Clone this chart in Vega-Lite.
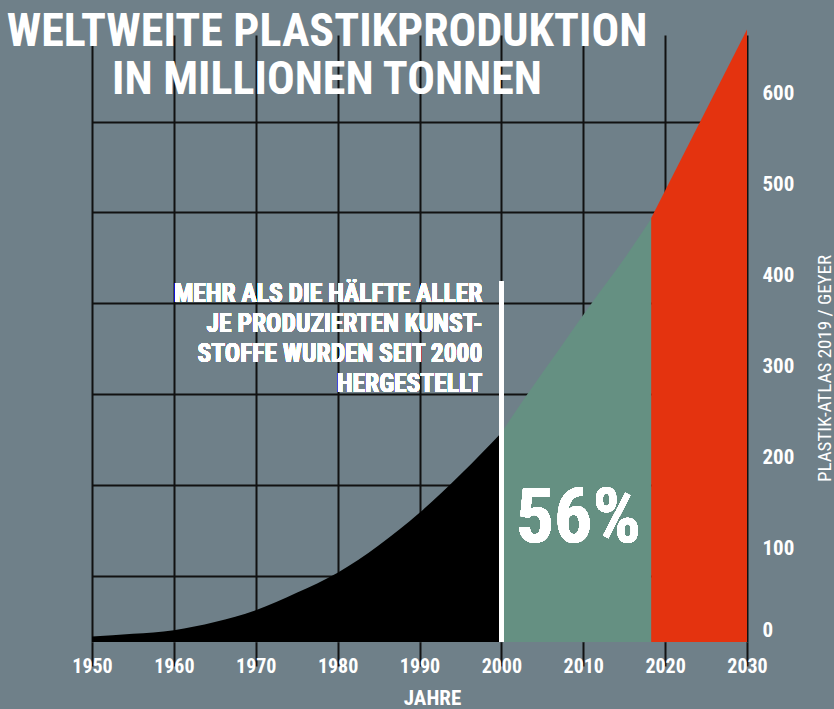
{
  "$schema": "https://vega.github.io/schema/vega-lite/v6.json",
  "autosize": "none",
  "width": 655,
  "height": 607,
  "padding": {"left": 92, "top": 35, "right": 87, "bottom": 67},
  "background": "#6f8089",
  "config": {"view": {"stroke": null}, "font": "Roboto Condensed, Roboto, sans-serif"},
  "title": {
    "text": ["WELTWEITE PLASTIKPRODUKTION", "IN MILLIONEN TONNEN"],
    "frame": "group",
    "anchor": "start",
    "align": "center",
    "dx": 235,
    "baseline": "top",
    "offset": 0,
    "dy": 74,
    "lineHeight": 48,
    "fontSize": 46,
    "fontWeight": "bold",
    "color": "white",
    "font": "Roboto Condensed, Roboto, sans-serif"
  },
  "data": {
    "values": [
      {"year": 1950, "value": 6, "segment": "bis 2000"},
      {"year": 1955, "value": 9, "segment": "bis 2000"},
      {"year": 1960, "value": 13, "segment": "bis 2000"},
      {"year": 1965, "value": 22, "segment": "bis 2000"},
      {"year": 1970, "value": 35, "segment": "bis 2000"},
      {"year": 1975, "value": 54, "segment": "bis 2000"},
      {"year": 1980, "value": 76, "segment": "bis 2000"},
      {"year": 1985, "value": 106, "segment": "bis 2000"},
      {"year": 1990, "value": 142, "segment": "bis 2000"},
      {"year": 1995, "value": 184, "segment": "bis 2000"},
      {"year": 2000, "value": 230, "segment": "bis 2000"},
      {"year": 2000, "value": 230, "segment": "seit 2000"},
      {"year": 2003, "value": 270, "segment": "seit 2000"},
      {"year": 2007, "value": 321, "segment": "seit 2000"},
      {"year": 2011, "value": 372, "segment": "seit 2000"},
      {"year": 2015, "value": 421, "segment": "seit 2000"},
      {"year": 2018.3, "value": 465, "segment": "seit 2000"},
      {"year": 2018.3, "value": 466, "segment": "Prognose"},
      {"year": 2030, "value": 673, "segment": "Prognose"}
    ]
  },
  "layer": [
    {
      "mark": {"type": "area", "interpolate": "monotone"},
      "encoding": {
        "x": {
          "field": "year",
          "type": "quantitative",
          "scale": {"domain": [1950, 2030], "nice": false, "zero": false},
          "axis": {
            "values": [1950, 1960, 1970, 1980, 1990, 2000, 2010, 2020, 2030],
            "format": "d",
            "grid": true,
            "gridColor": "#111111",
            "gridWidth": 2,
            "ticks": true,
            "tickSize": 24,
            "tickColor": "#111111",
            "tickWidth": 2,
            "domain": false,
            "labelColor": "white",
            "labelFontSize": 20,
            "labelFontWeight": "bold",
            "labelPadding": -10,
            "labelFlush": false,
            "title": "JAHRE",
            "titleX": 340,
            "titleY": 62,
            "titleBaseline": "alphabetic",
            "titleAlign": "center",
            "titleColor": "white",
            "titleFontSize": 21,
            "titleFontWeight": "bold"
          }
        },
        "y": {
          "field": "value",
          "type": "quantitative",
          "stack": null,
          "scale": {"domain": [0, 667], "nice": false},
          "axis": {
            "orient": "left",
            "values": [72, 172, 272, 372, 472, 571],
            "grid": true,
            "gridColor": "#111111",
            "gridWidth": 2,
            "labels": false,
            "ticks": false,
            "domain": false,
            "title": null
          }
        },
        "color": {
          "field": "segment",
          "type": "nominal",
          "scale": {"domain": ["bis 2000", "seit 2000", "Prognose"], "range": ["#000000", "#659082", "#e4330f"]},
          "legend": null
        }
      }
    },
    {
      "mark": {"type": "rule", "color": "white", "strokeWidth": 4},
      "encoding": {
        "x": {"datum": 2000, "type": "quantitative"},
        "y": {
          "datum": 0,
          "type": "quantitative",
          "axis": {
            "orient": "right",
            "values": [0, 100, 200, 300, 400, 500, 600],
            "grid": false,
            "ticks": false,
            "domain": false,
            "labelColor": "white",
            "labelFontSize": 21,
            "labelFontWeight": "bold",
            "labelAlign": "left",
            "labelPadding": 15,
            "labelOffset": -2,
            "labelFlush": 5,
            "title": "PLASTIK-ATLAS 2019 / GEYER",
            "titleAngle": 270,
            "titleX": 83,
            "titleY": 333,
            "titleAlign": "center",
            "titleBaseline": "alphabetic",
            "titleColor": "white",
            "titleFontSize": 19,
            "titleFontWeight": "normal"
          }
        },
        "y2": {"datum": 396}
      }
    },
    {
      "mark": {
        "type": "text",
        "text": ["MEHR ALS DIE HÄLFTE ALLER", "JE PRODUZIERTEN KUNST-", "STOFFE WURDEN SEIT 2000", "HERGESTELLT"],
        "align": "right",
        "baseline": "top",
        "dx": -19,
        "dy": 1,
        "lineHeight": 30,
        "fontSize": 25.5,
        "fontWeight": "bold",
        "color": "white"
      },
      "encoding": {
        "x": {"datum": 2000, "type": "quantitative"},
        "y": {"datum": 396.5, "type": "quantitative", "axis": null}
      }
    },
    {
      "mark": {
        "type": "text",
        "text": "56%",
        "align": "center",
        "baseline": "alphabetic",
        "fontSize": 76,
        "fontWeight": "bold",
        "color": "white"
      },
      "encoding": {
        "x": {"datum": 2009.4, "type": "quantitative"},
        "y": {"datum": 110, "type": "quantitative", "axis": null}
      }
    }
  ],
  "resolve": {"axis": {"y": "independent"}}
}
